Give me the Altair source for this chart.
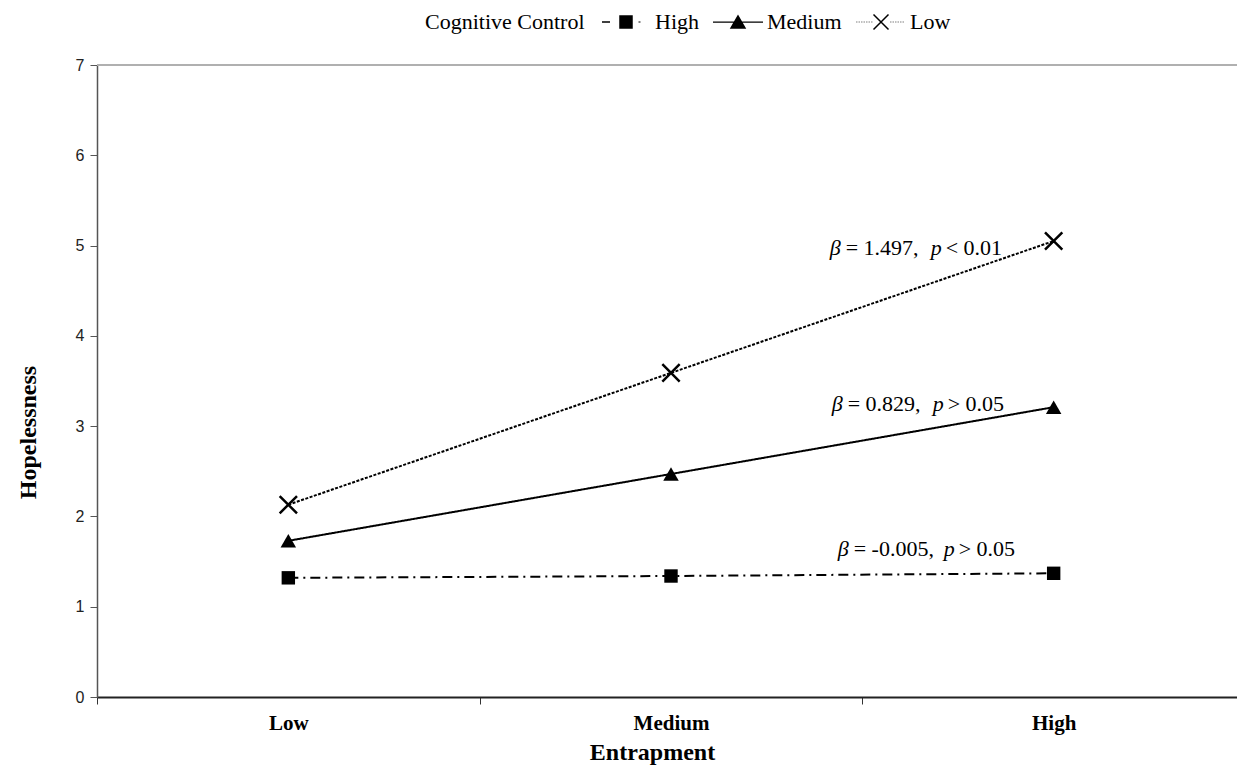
import math
import altair as alt
import pandas as pd

# ---- data ----
entrapment = ["Low", "Medium", "High"]
cc_levels = ["High", "Medium", "Low"]
hope_high = [1.32, 1.34, 1.37]
hope_medium = [1.73, 2.47, 3.21]
hope_low = [2.13, 3.59, 5.05]

ann_y = [4.97, 3.24, 1.64]
ann_stat = ["= 1.497,", "= 0.829,", "= -0.005,"]
ann_cmp = ["< 0.01", "> 0.05", "> 0.05"]

rows = []
for lvl, vals in zip(cc_levels, [hope_high, hope_medium, hope_low]):
    for e, v in zip(entrapment, vals):
        rows.append({"Entrapment": e, "CC": lvl, "Hopelessness": v})
df = pd.DataFrame(rows)
ann = pd.DataFrame({"Entrapment": ["High"] * 3, "Hopelessness": ann_y,
                    "stat": ann_stat, "cmp": ann_cmp, "i": [0, 1, 2]})

SERIF = "Liberation Serif"
SANS = "Liberation Sans"

xscale = alt.Scale(type="band", domain=entrapment, paddingInner=0, paddingOuter=0, range=[0, 1148])
yscale = alt.Scale(domain=[0, 7], nice=False)

x_axis = alt.Axis(labelFont=SERIF, labelFontSize=21, labelFontWeight="bold", labelColor="black",
                  labelAngle=0, labelPadding=8, tickBand="extent", tickSize=7, tickColor="#333",
                  domainColor="#222", domainWidth=2, grid=False,
                  titleFont=SERIF, titleFontSize=24, titleFontWeight="bold", titleColor="black",
                  titleX=555, titleY=62, titleBaseline="alphabetic", titleAlign="center")
y_axis = alt.Axis(values=list(range(8)), format="d", labelFont=SANS, labelFontSize=16, labelColor="#222",
                  labelPadding=6, tickSize=7, tickColor="#555", domainColor="#555", domainWidth=1.5,
                  grid=False, titleFont=SERIF, titleFontSize=24, titleFontWeight="bold",
                  titleColor="black", titleAngle=270, titleX=-69, titleY=367,
                  titleAlign="center", titleBaseline="middle")

X = alt.X("Entrapment:N", scale=xscale, bandPosition=0.5, axis=x_axis, title="Entrapment")
Y = alt.Y("Hopelessness:Q", scale=yscale, axis=y_axis, title="Hopelessness")
Xs = alt.X("Entrapment:N", scale=xscale, bandPosition=0.5, title="Entrapment")
Ys = alt.Y("Hopelessness:Q", scale=yscale, title="Hopelessness")

top_rule = alt.Chart(pd.DataFrame({"v": [7]})).mark_rule(color="#b0b0b0", strokeWidth=2).encode(
    y=alt.Y("v:Q", scale=yscale, title="Hopelessness"))

lines = alt.Chart(df).mark_line(color="black").encode(
    x=X, y=Y, detail="CC:N",
    strokeDash=alt.StrokeDash("CC:N", scale=alt.Scale(domain=cc_levels, range=[[10, 5, 2, 5], [1, 0], [3, 1.5]]), legend=None),
    strokeWidth=alt.StrokeWidth("CC:N", scale=alt.Scale(domain=cc_levels, range=[2, 2, 1]), legend=None),
)

XPATH = "M-1,-1L1,1M-1,1L1,-1"
filled_pts = alt.Chart(df).transform_filter(alt.datum.CC != "Low").mark_point(
    filled=True, color="black", opacity=1).encode(
    x=Xs, y=Ys,
    shape=alt.Shape("CC:N", scale=alt.Scale(domain=["High", "Medium"], range=["square", "triangle-up"]), legend=None),
    size=alt.Size("CC:N", scale=alt.Scale(domain=["High", "Medium"], range=[180, 240]), legend=None),
)
x_pts = alt.Chart(df).transform_filter(alt.datum.CC == "Low").mark_point(
    filled=False, color="black", opacity=1, strokeWidth=2.5, shape=XPATH, size=300).encode(x=Xs, y=Ys)

# legend sample symbols drawn as filled outlines (line piece + marker) in a 50px box
def rect(x0, x1, h):
    return f"M{x0:.3f},{-h:.3f}H{x1:.3f}V{h:.3f}H{x0:.3f}Z"

def dotted(a, b, h, seg=0.06, gap=0.04):
    parts, p = [], a
    while p < b - 1e-6:
        q = min(p + seg, b)
        parts.append(rect(p, q, h))
        p = q + gap
    return "".join(parts)

def bar(x0, y0, x1, y1, w):
    dx, dy = x1 - x0, y1 - y0
    n = math.hypot(dx, dy)
    ox, oy = -dy / n * w, dx / n * w
    pts = [(x0 + ox, y0 + oy), (x1 + ox, y1 + oy), (x1 - ox, y1 - oy), (x0 - ox, y0 - oy)]
    return "M" + "L".join(f"{a:.3f},{b:.3f}" for a, b in pts) + "Z"

box = "M0,-1L0,-1M0,1L0,1"
leg_high = rect(-0.96, -0.64, 0.03) + "M-0.27,-0.27H0.27V0.27H-0.27Z" + rect(0.5, 0.58, 0.02) + box
leg_med = rect(-1, 1, 0.025) + "M0,-0.3L0.33,0.27H-0.33Z" + box
leg_low = (dotted(-1, -0.34, 0.014) + bar(-0.3, -0.3, 0.3, 0.3, 0.03) + bar(0.3, -0.3, -0.3, 0.3, 0.03)
           + dotted(0.36, 0.96, 0.014) + box)

leg = alt.Legend(title="Cognitive Control", titleOrient="left", orient="none",
                 legendX=328, legendY=-68, direction="horizontal",
                 titleFont=SERIF, titleFontSize=22, titleFontWeight="normal",
                 titleColor="black", titlePadding=16, titleBaseline="middle",
                 titleAnchor="middle",
                 labelFont=SERIF, labelFontSize=22, labelColor="black",
                 labelOffset=4, columnPadding=14, symbolSize=2500,
                 symbolFillColor="black", symbolStrokeWidth=0, symbolOpacity=1)

legend_layer = alt.Chart(df).transform_filter(alt.datum.CC == "none").mark_point(
    filled=True, color="black").encode(
    x=Xs, y=Ys,
    shape=alt.Shape("CC:N", scale=alt.Scale(domain=cc_levels, range=[leg_high, leg_med, leg_low]), legend=leg),
)

# annotation pieces: offsets (px) of beta, stat, p, comparator from the High band centre
offs = [(-224, -208, -123, -108), (-222, -206, -121, -106), (-216, -200, -110, -95)]
ann_layers = []
for i, (ob, os_, op, oc) in enumerate(offs):
    base = alt.Chart(ann).transform_filter(alt.datum.i == i)
    common = dict(font=SERIF, fontSize=22, color="black", align="left", baseline="middle")
    ann_layers.append(base.mark_text(dx=ob, fontStyle="italic", text="β", **common).encode(x=Xs, y=Ys))
    ann_layers.append(base.mark_text(dx=os_, **common).encode(x=Xs, y=Ys, text="stat:N"))
    ann_layers.append(base.mark_text(dx=op, fontStyle="italic", text="p", **common).encode(x=Xs, y=Ys))
    ann_layers.append(base.mark_text(dx=oc, **common).encode(x=Xs, y=Ys, text="cmp:N"))

chart = alt.layer(top_rule, lines, filled_pts, x_pts, legend_layer, *ann_layers).resolve_scale(
    shape="independent", size="independent"
).properties(
    width=1140, height=632,
    autosize=alt.AutoSizeParams(type="none"),
    padding={"left": 89, "top": 57, "right": 0, "bottom": 70},
).configure_view(stroke=None).configure(background="white")

chart.save("out.html", embed_options={"renderer": "svg", "actions": False})
